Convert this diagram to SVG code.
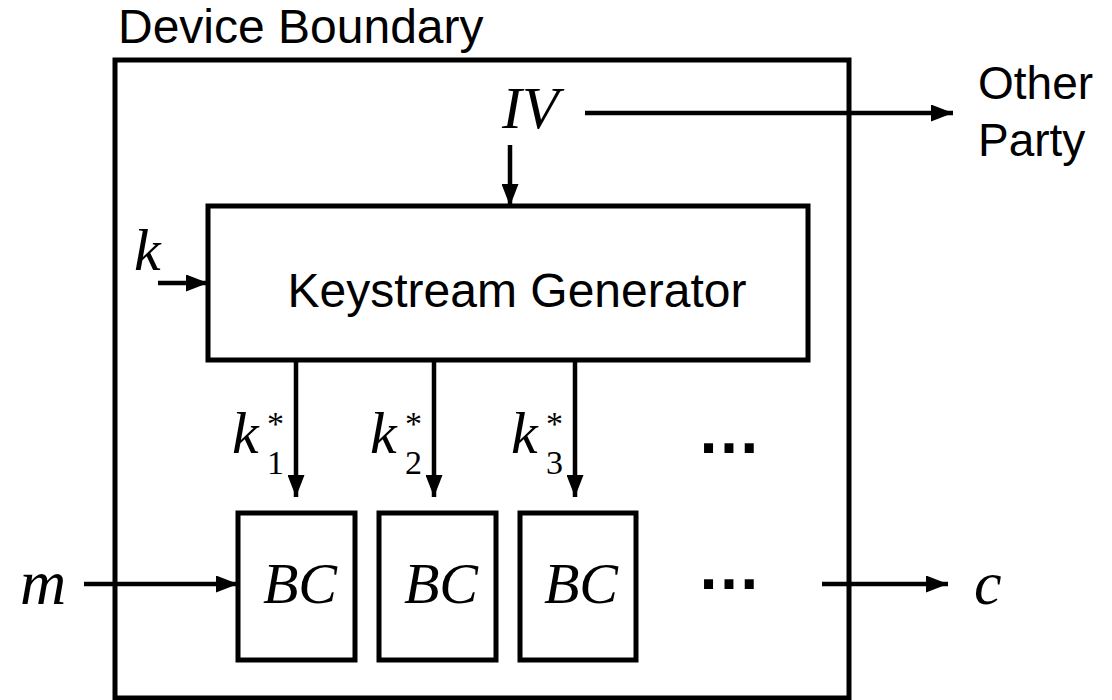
<svg xmlns="http://www.w3.org/2000/svg" width="1112" height="700" viewBox="0 0 1112 700">
<style>
.box{fill:none;stroke:#000;stroke-width:5;stroke-linejoin:miter}
.ln{fill:none;stroke:#000;stroke-width:4.5}
.sans{font-family:"Liberation Sans",Arial,sans-serif;fill:#000}
.math{font-family:"Liberation Serif","Times New Roman",serif;font-style:italic;fill:#000}
.up{font-family:"Liberation Serif","Times New Roman",serif;font-style:normal;fill:#000}
</style>
<defs>
<marker id="ah" markerUnits="userSpaceOnUse" markerWidth="22" markerHeight="17" refX="22" refY="8.5" orient="auto">
<path d="M0,0 L22,8.5 L0,17 z" fill="#000"/>
</marker>
</defs>
<rect width="1112" height="700" fill="#fff"/>
<g id="device-boundary">
<rect class="box" x="115" y="60" width="734" height="638"/>
<text class="sans" x="118" y="43" font-size="48">Device Boundary</text>
</g>
<g id="iv">
<text class="math" x="502" y="128" font-size="60">IV</text>
</g>
<g id="other-party">
<text class="sans" x="978" y="99" font-size="46">Other</text>
<text class="sans" x="978" y="156" font-size="46">Party</text>
</g>
<g id="k-input">
<text class="math" x="134" y="270" font-size="60">k</text>
</g>
<g id="keystream-generator">
<rect class="box" x="208" y="206" width="600" height="154"/>
<text class="sans" x="517" y="307" font-size="48" text-anchor="middle">Keystream Generator</text>
</g>
<g id="k1">
<text class="math" x="232" y="453" font-size="60">k<tspan class="up" x="267" y="435" font-size="34">*</tspan><tspan class="up" x="267" y="474" font-size="34">1</tspan></text>
</g>
<g id="k2">
<text class="math" x="370" y="453" font-size="60">k<tspan class="up" x="405" y="435" font-size="34">*</tspan><tspan class="up" x="405" y="474" font-size="34">2</tspan></text>
</g>
<g id="k3">
<text class="math" x="511" y="453" font-size="60">k<tspan class="up" x="546" y="435" font-size="34">*</tspan><tspan class="up" x="546" y="474" font-size="34">3</tspan></text>
</g>
<g id="dots-top">
<text class="sans" x="697" y="453" font-size="64" font-weight="bold">…</text>
</g>
<g id="bc1">
<rect class="box" x="238" y="513" width="117" height="147"/>
<text class="math" x="300" y="603" font-size="58" text-anchor="middle">BC</text>
</g>
<g id="bc2">
<rect class="box" x="379" y="513" width="117" height="147"/>
<text class="math" x="441" y="603" font-size="58" text-anchor="middle">BC</text>
</g>
<g id="bc3">
<rect class="box" x="520" y="513" width="116" height="147"/>
<text class="math" x="581" y="603" font-size="58" text-anchor="middle">BC</text>
</g>
<g id="dots-bottom">
<text class="sans" x="697" y="589" font-size="64" font-weight="bold">…</text>
</g>
<g id="m-input">
<text class="math" x="20" y="604" font-size="64">m</text>
</g>
<g id="c-output">
<text class="math" x="974" y="604" font-size="62">c</text>
</g>
<g id="connectors">
<line class="ln" x1="585" y1="113" x2="953" y2="113" marker-end="url(#ah)"/>
<line class="ln" x1="510" y1="145" x2="510" y2="206" marker-end="url(#ah)"/>
<line class="ln" x1="158" y1="283" x2="208" y2="283" marker-end="url(#ah)"/>
<line class="ln" x1="296" y1="360" x2="296" y2="497" marker-end="url(#ah)"/>
<line class="ln" x1="434" y1="360" x2="434" y2="497" marker-end="url(#ah)"/>
<line class="ln" x1="575" y1="360" x2="575" y2="497" marker-end="url(#ah)"/>
<line class="ln" x1="84" y1="584" x2="238" y2="584" marker-end="url(#ah)"/>
<line class="ln" x1="822" y1="584" x2="948" y2="584" marker-end="url(#ah)"/>
</g>
</svg>
